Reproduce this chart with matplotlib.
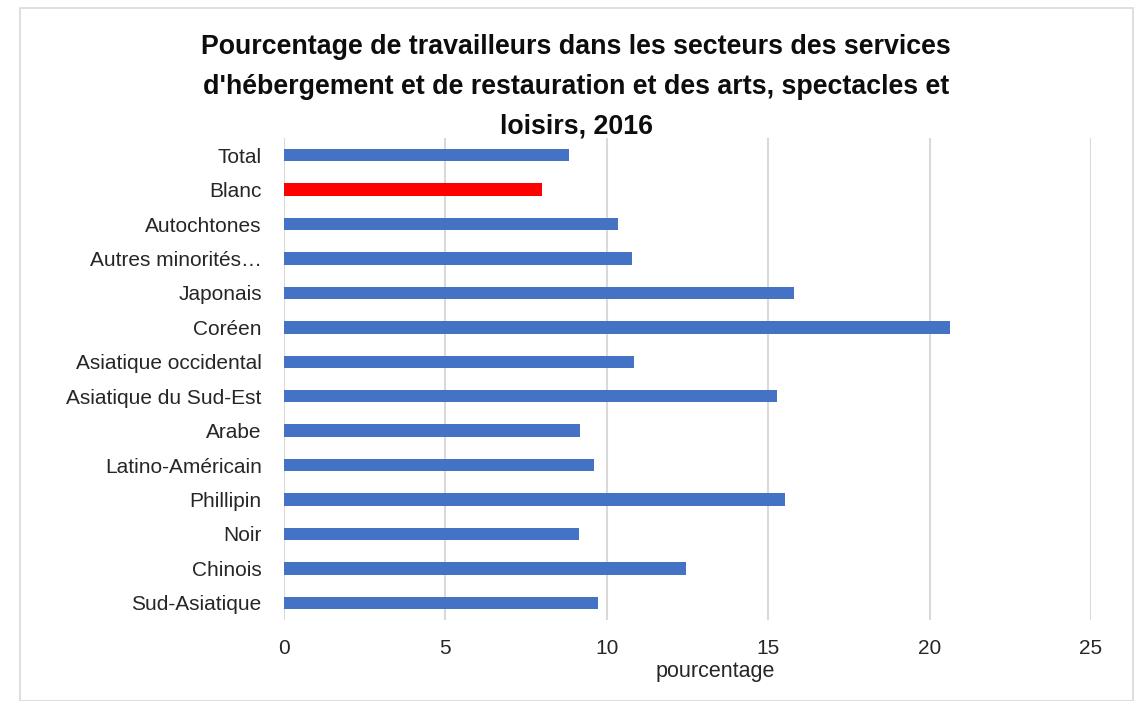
import matplotlib
matplotlib.use("Agg")
import matplotlib.pyplot as plt

categories = ["Total", "Blanc", "Autochtones", "Autres minorités…", "Japonais", "Coréen",
              "Asiatique occidental", "Asiatique du Sud-Est", "Arabe", "Latino-Américain",
              "Phillipin", "Noir", "Chinois", "Sud-Asiatique"]
values = [8.83, 7.99, 10.36, 10.78, 15.80, 20.63, 10.84, 15.28, 9.17, 9.61, 15.52, 9.14, 12.45, 9.74]
colors = ["#4472C4", "#FF0000"] + ["#4472C4"] * 12
xticks = [0, 5, 10, 15, 20, 25]
title = ("Pourcentage de travailleurs dans les secteurs des services\n"
         "d'hébergement et de restauration et des arts, spectacles et\n"
         "loisirs, 2016")

plt.rcParams['font.family'] = ['Liberation Sans', 'DejaVu Sans']

W, H = 1141, 701
fig = plt.figure(figsize=(W / 100, H / 100), dpi=100)
fig.patch.set_facecolor("white")

# outer border
border = plt.Rectangle((20 / W, 0), (1133 - 20) / W, (H - 8) / H, transform=fig.transFigure,
                       fill=False, edgecolor="#D9D9D9", linewidth=1.2)
fig.add_artist(border)

left, right = 284 / W, 1091 / W
top, bottom = 1 - 138 / H, 1 - 620 / H
ax = fig.add_axes([left, bottom, right - left, top - bottom])

y = list(range(len(categories)))
ax.barh(y, values, height=0.36, color=colors, zorder=3)
ax.set_ylim(len(categories) - 0.5, -0.5)
ax.set_xlim(0, 25)
ax.set_yticks(y)
ax.set_yticklabels(categories, fontsize=15, color="#262626")
ax.set_xticks(xticks)
ax.set_xticklabels([str(t) for t in xticks], fontsize=15, color="#262626")
ax.tick_params(axis="both", length=0)
ax.tick_params(axis="y", pad=16)
ax.tick_params(axis="x", pad=14)
for s in ax.spines.values():
    s.set_visible(False)
ax.grid(axis="x", color="#D9D9D9", linewidth=1.5, zorder=0)
ax.set_axisbelow(True)

fig.text(715 / W, 1 - 672 / H, "pourcentage", ha="center", va="center", fontsize=15.5, color="#262626")
fig.text(576 / W, 1 - 87 / H, title, ha="center", va="center", fontsize=19.3, fontweight="bold",
         color="#0D0D0D", linespacing=1.7)

fig.savefig("out.png", dpi=100, facecolor="white")
